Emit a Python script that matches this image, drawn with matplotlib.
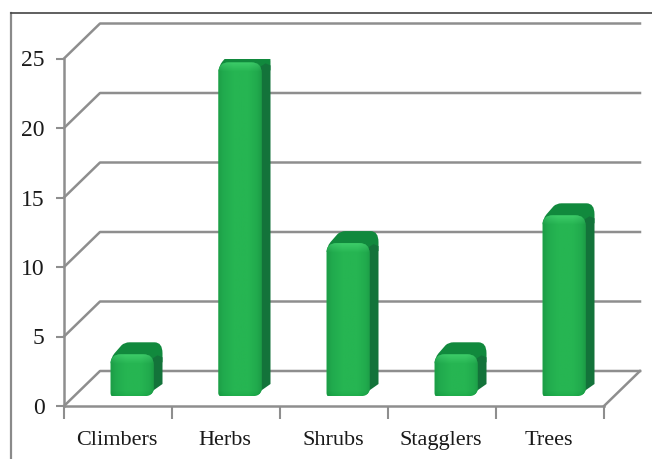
#!/usr/bin/env python3
import numpy as np
import matplotlib
matplotlib.use('Agg')
import matplotlib.pyplot as plt
from matplotlib.patches import PathPatch, Polygon
from matplotlib.path import Path

categories = ['Climbers', 'Herbs', 'Shrubs', 'Stagglers', 'Trees']
values = [3, 24, 11, 3, 13]
y_ticks = [0, 5, 10, 15, 20, 25]

W, H = 652, 459
plt.rcParams['font.family'] = ['Liberation Serif', 'DejaVu Sans']

fig = plt.figure(figsize=(W / 100, H / 100), dpi=100)
ax = fig.add_axes([64 / W, 1 - 406 / H, 540 / W, 347.5 / H])
ax.set_xlim(0, 5)
ax.set_ylim(0, 25)
ax.patch.set_alpha(0)

GRID = '#8e8e8e'
TEXT = '#1a1a1a'
# pixel sizes converted to data units
px_x = 5 / 540
px_y = 25 / 347.5
wall_dx, wall_dy = 36 * px_x, 35 * px_y

# outer frame of the picture
fig.add_artist(plt.Line2D([11 / W, 11 / W], [0, 1 - 13 / H], color='#8a8a8a', lw=1.6))
fig.add_artist(plt.Line2D([11 / W, 1], [1 - 13 / H, 1 - 13 / H], color='#444444', lw=1.2))

# back wall gridlines and the side wall
for t in y_ticks:
    ax.plot([0, wall_dx, 5 + wall_dx], [t, t + wall_dy, t + wall_dy],
            color=GRID, lw=1.8, clip_on=False, zorder=1)
ax.plot([5, 5 + wall_dx], [0, wall_dy], color=GRID, lw=1.8, clip_on=False, zorder=1)

# axes
for s in ['top', 'right']:
    ax.spines[s].set_visible(False)
for s in ['left', 'bottom']:
    ax.spines[s].set_color(GRID)
    ax.spines[s].set_linewidth(1.8)
ax.set_xticks(range(6))
ax.set_xticklabels([])
ax.set_yticks(y_ticks)
ax.tick_params(axis='y', length=6, width=1.5, color=GRID, labelsize=17,
               labelcolor=TEXT, pad=8)
ax.tick_params(axis='x', length=9, width=1.5, color=GRID)
for i, c in enumerate(categories):
    ax.text(i + 0.5 - 1 * px_x, -25 * px_y, c, ha='center', va='top', fontsize=16,
            color=TEXT)


def curved(points):
    """Closed path from (x, y, is_control) points, corners drawn as quadratic curves."""
    verts, codes = [], []
    for n, (x, y, ctrl) in enumerate(points):
        verts.append((x, y))
        codes.append(Path.MOVETO if n == 0 else (Path.CURVE3 if ctrl or points[n - 1][2] else Path.LINETO))
    verts.append(verts[0])
    codes.append(Path.CLOSEPOLY)
    return Path(verts, codes)


# colours across the front face of a bar, left to right
front_x = np.array([0.0, 0.12, 0.35, 0.7, 0.9, 1.0])
front_rgb = np.array([[29, 158, 71], [33, 171, 78], [38, 181, 82],
                      [38, 181, 82], [33, 170, 77], [28, 156, 70]], dtype=float) / 255

bar_w = 43 * px_x
dep_x, dep_y = 9 * px_x, 12 * px_y
base = 10 * px_y
shift = 14 * px_x

for i, v in enumerate(values):
    x0 = i + 0.5 + shift - bar_w / 2
    x1 = x0 + bar_w
    y0 = base
    y1 = base + v
    rx, ry = 10 * px_x, 10 * px_y

    # top face: outline of the whole top of the bar
    top = curved([(x0, y1 - 9 * px_y, False), (x0, y1 - 4 * px_y, True), (x0 + 4 * px_x, y1 + 1 * px_y, False),
                  (x0 + 11 * px_x, y1 + 9 * px_y, False), (x0 + 14 * px_x, y1 + dep_y, True),
                  (x0 + 19 * px_x, y1 + dep_y, False),
                  (x1 + 1 * px_x, y1 + dep_y, False), (x1 + dep_x, y1 + dep_y, True),
                  (x1 + dep_x, y1 + 1 * px_y, False), (x1 + dep_x, y1 - 8 * px_y, False),
                  (x1, y1 - 8 * px_y, False)])
    ax.add_patch(PathPatch(top, fc='#11893d', ec='none', zorder=3))

    # side face
    ax.add_patch(Polygon([[x1 - 8 * px_x, y0], [x1 + dep_x, y0 + dep_y],
                          [x1 + dep_x, y1 - 3 * px_y], [x1 + 4 * px_x, y1 - 1 * px_y],
                          [x1 - 4 * px_x, y1 - 6 * px_y]],
                         closed=True, fc='#13733a', ec='none', zorder=3))

    # front face: big radius at the top, small at the bottom
    front = curved([(x0, y0 + 3 * px_y, False), (x0, y1 - ry, False), (x0, y1, True),
                    (x0 + rx, y1, False), (x1 - rx, y1, False), (x1, y1, True),
                    (x1, y1 - ry, False), (x1, y0 + 6 * px_y, False), (x1 - 1 * px_x, y0, True),
                    (x1 - 9 * px_x, y0, False), (x0 + 2 * px_x, y0, False), (x0, y0, True),
                    (x0, y0 + 3 * px_y, False)])
    patch = PathPatch(front, fc='#22a94c', ec='none', zorder=4)
    ax.add_patch(patch)

    # shading: horizontal ramp, lighter rim along the top, darker along the bottom
    n_rows = max(int(v / px_y), 8)
    across = np.linspace(0, 1, 48)
    rgb = np.stack([np.interp(across, front_x, front_rgb[:, c]) for c in range(3)], axis=-1)
    shade = np.repeat(rgb[None, :, :], n_rows, axis=0)
    rows_px = np.arange(n_rows)[:, None, None]
    shade = shade + 0.09 * np.clip(1 - rows_px / 9, 0, 1) - 0.03 * np.clip(1 - (n_rows - rows_px) / 6, 0, 1)
    im = ax.imshow(np.clip(shade, 0, 1), extent=[x0, x1, y0, y1], aspect='auto',
                   origin='upper', zorder=5, interpolation='bilinear')
    im.set_clip_path(patch)

ax.set_xlim(0, 5)
ax.set_ylim(0, 25)
fig.savefig('out.png', dpi=100)
